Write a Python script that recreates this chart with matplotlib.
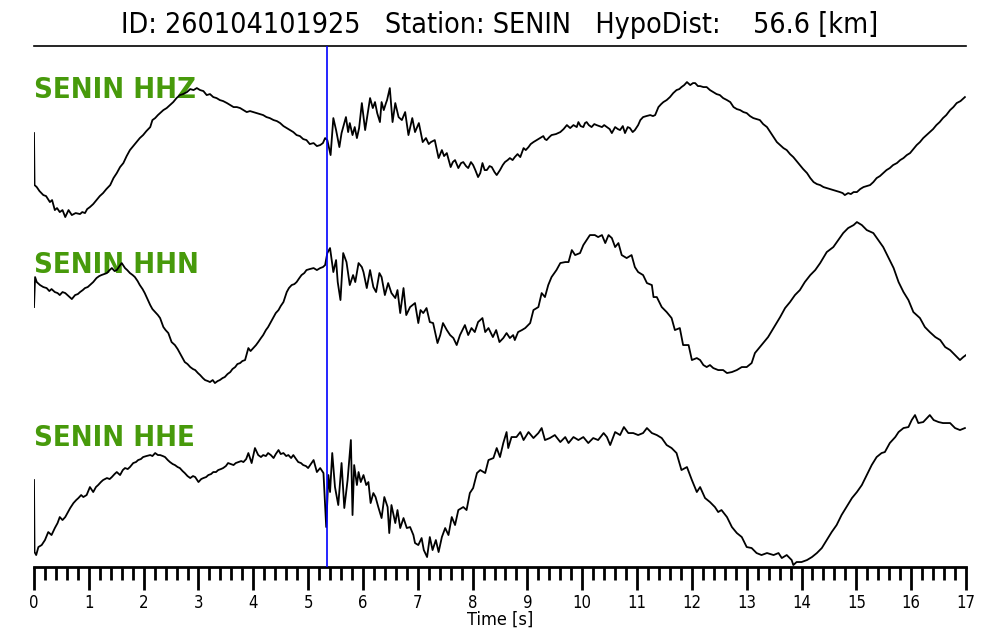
import numpy as np
import matplotlib.pyplot as plt
from matplotlib.ticker import MultipleLocator

plt.rcParams["font.family"] = ["DejaVu Sans"]
plt.rcParams["font.stretch"] = "condensed"

# Event info
event_id = "260104101925"
station = "SENIN"
hypo_dist = 56.6
p_pick = 5.35  # blue marker [s]

# Traces: (time [s], amplitude [counts, arbitrary])
hhz = [
    (0.00, 87), (0.01, 35), (0.05, 33), (0.10, 29), (0.17, 25), (0.22, 24), (0.29, 18), (0.33, 20),
    (0.38, 10), (0.42, 12), (0.47, 8), (0.52, 10), (0.57, 3), (0.63, 10), (0.69, 5), (0.76, 7),
    (0.84, 6), (0.88, 8), (0.93, 7), (0.97, 11), (1.02, 13), (1.08, 16), (1.14, 20), (1.20, 24),
    (1.26, 27), (1.32, 31), (1.39, 35), (1.45, 42), (1.51, 47), (1.57, 53), (1.63, 57), (1.69, 64),
    (1.75, 70), (1.81, 74), (1.87, 78), (1.93, 82), (1.99, 85), (2.05, 89), (2.12, 93), (2.16, 100),
    (2.21, 102), (2.26, 105), (2.30, 107), (2.36, 110), (2.42, 112), (2.48, 115), (2.54, 118), (2.60, 122),
    (2.66, 125), (2.72, 126), (2.79, 128), (2.85, 131), (2.91, 130), (2.97, 132), (3.03, 130), (3.09, 129),
    (3.15, 125), (3.21, 126), (3.27, 123), (3.33, 122), (3.39, 120), (3.45, 119), (3.52, 117), (3.58, 115),
    (3.64, 113), (3.70, 113), (3.76, 112), (3.82, 110), (3.88, 108), (3.94, 109), (4.00, 108), (4.06, 107),
    (4.12, 106), (4.18, 105), (4.24, 103), (4.30, 102), (4.37, 100), (4.43, 99), (4.49, 97), (4.55, 94),
    (4.61, 92), (4.67, 90), (4.73, 88), (4.79, 85), (4.85, 84), (4.91, 81), (4.97, 80), (5.03, 76),
    (5.10, 77), (5.16, 74), (5.22, 75), (5.27, 77), (5.31, 82), (5.35, 80), (5.41, 65), (5.46, 102),
    (5.51, 90), (5.57, 73), (5.61, 87), (5.69, 103), (5.73, 88), (5.76, 97), (5.81, 85), (5.85, 93),
    (5.89, 82), (5.93, 92), (5.98, 117), (6.04, 90), (6.13, 122), (6.18, 112), (6.22, 118), (6.26, 107),
    (6.31, 98), (6.34, 118), (6.38, 110), (6.42, 117), (6.44, 120), (6.49, 132), (6.54, 98), (6.59, 117),
    (6.65, 103), (6.71, 100), (6.77, 108), (6.83, 85), (6.90, 102), (6.95, 88), (7.02, 97), (7.09, 78),
    (7.15, 82), (7.20, 76), (7.24, 78), (7.31, 80), (7.38, 62), (7.44, 70), (7.48, 64), (7.53, 67),
    (7.60, 53), (7.64, 58), (7.68, 60), (7.74, 52), (7.79, 57), (7.83, 58), (7.88, 54), (7.92, 52),
    (7.97, 58), (8.01, 55), (8.05, 50), (8.10, 43), (8.14, 47), (8.18, 57), (8.22, 50), (8.26, 50),
    (8.31, 54), (8.35, 53), (8.40, 48), (8.44, 45), (8.50, 50), (8.55, 55), (8.59, 58), (8.64, 60),
    (8.68, 62), (8.73, 60), (8.77, 63), (8.82, 66), (8.87, 63), (8.93, 72), (8.97, 70), (9.02, 73),
    (9.06, 76), (9.11, 78), (9.17, 80), (9.23, 82), (9.29, 84), (9.32, 81), (9.35, 80), (9.40, 83),
    (9.44, 85), (9.52, 86), (9.60, 88), (9.66, 91), (9.72, 95), (9.78, 92), (9.84, 95), (9.90, 93),
    (9.93, 98), (9.97, 94), (10.02, 93), (10.05, 97), (10.08, 98), (10.12, 95), (10.17, 93), (10.22, 96),
    (10.26, 95), (10.31, 94), (10.36, 93), (10.40, 95), (10.45, 93), (10.50, 91), (10.54, 87), (10.60, 93),
    (10.65, 91), (10.69, 90), (10.74, 94), (10.78, 87), (10.83, 93), (10.87, 92), (10.92, 88), (10.96, 90),
    (11.02, 95), (11.06, 100), (11.11, 103), (11.17, 104), (11.24, 105), (11.29, 104), (11.33, 105), (11.39, 113),
    (11.44, 116), (11.48, 118), (11.54, 120), (11.60, 123), (11.66, 127), (11.72, 130), (11.77, 131), (11.81, 133),
    (11.86, 135), (11.91, 138), (11.97, 135), (12.02, 137), (12.06, 137), (12.11, 134), (12.15, 134), (12.21, 133),
    (12.27, 133), (12.33, 130), (12.39, 128), (12.45, 126), (12.51, 125), (12.57, 122), (12.64, 120), (12.70, 118),
    (12.76, 113), (12.82, 111), (12.88, 110), (12.94, 108), (13.00, 107), (13.06, 104), (13.12, 102), (13.18, 101),
    (13.24, 100), (13.30, 96), (13.37, 93), (13.43, 88), (13.49, 83), (13.55, 78), (13.61, 75), (13.67, 72),
    (13.73, 70), (13.79, 66), (13.85, 63), (13.91, 59), (13.97, 55), (14.03, 51), (14.10, 47), (14.16, 42),
    (14.22, 38), (14.28, 36), (14.34, 35), (14.40, 33), (14.46, 32), (14.52, 31), (14.58, 30), (14.64, 29),
    (14.70, 28), (14.75, 27), (14.79, 25), (14.85, 27), (14.90, 26), (14.95, 28), (15.01, 28), (15.07, 31),
    (15.13, 33), (15.19, 34), (15.25, 35), (15.31, 38), (15.37, 42), (15.43, 44), (15.49, 47), (15.55, 50),
    (15.61, 52), (15.67, 55), (15.74, 57), (15.80, 60), (15.86, 62), (15.92, 65), (15.98, 67), (16.04, 71),
    (16.10, 75), (16.16, 78), (16.22, 82), (16.28, 85), (16.34, 88), (16.40, 91), (16.46, 95), (16.52, 98),
    (16.58, 102), (16.64, 105), (16.71, 110), (16.77, 113), (16.83, 117), (16.90, 119), (16.98, 123),
]

hhn = [
    (0.00, 83), (0.02, 113), (0.05, 108), (0.11, 105), (0.17, 103), (0.23, 102), (0.28, 99), (0.32, 101),
    (0.38, 98), (0.43, 97), (0.47, 95), (0.52, 98), (0.57, 97), (0.63, 94), (0.69, 91), (0.75, 95),
    (0.80, 96), (0.84, 98), (0.89, 100), (0.93, 102), (0.98, 103), (1.02, 105), (1.08, 108), (1.14, 112),
    (1.19, 114), (1.23, 115), (1.28, 116), (1.33, 117), (1.38, 120), (1.42, 122), (1.47, 119), (1.51, 120),
    (1.56, 124), (1.60, 127), (1.66, 122), (1.70, 120), (1.75, 117), (1.80, 115), (1.84, 113), (1.89, 109),
    (1.93, 105), (1.98, 101), (2.02, 97), (2.07, 91), (2.12, 85), (2.16, 81), (2.21, 78), (2.26, 75),
    (2.30, 72), (2.36, 63), (2.40, 60), (2.45, 57), (2.51, 48), (2.57, 45), (2.62, 41), (2.66, 37),
    (2.71, 32), (2.75, 28), (2.80, 26), (2.85, 23), (2.90, 21), (2.94, 20), (2.99, 17), (3.03, 15),
    (3.08, 12), (3.12, 10), (3.17, 9), (3.21, 8), (3.26, 10), (3.30, 7), (3.35, 9), (3.39, 10),
    (3.44, 12), (3.48, 13), (3.53, 16), (3.58, 18), (3.62, 21), (3.67, 23), (3.71, 26), (3.76, 27),
    (3.80, 29), (3.85, 30), (3.91, 42), (3.95, 39), (4.00, 42), (4.05, 45), (4.09, 48), (4.14, 52),
    (4.18, 55), (4.23, 60), (4.27, 63), (4.32, 68), (4.37, 73), (4.41, 77), (4.46, 80), (4.50, 84),
    (4.55, 88), (4.61, 98), (4.65, 102), (4.70, 105), (4.75, 106), (4.79, 108), (4.84, 112), (4.88, 115),
    (4.93, 117), (4.97, 120), (5.03, 121), (5.10, 122), (5.16, 120), (5.22, 122), (5.27, 123), (5.31, 125),
    (5.35, 137), (5.40, 142), (5.46, 118), (5.51, 130), (5.54, 108), (5.59, 90), (5.64, 137), (5.70, 128),
    (5.76, 105), (5.82, 115), (5.86, 108), (5.92, 127), (5.98, 123), (6.01, 118), (6.07, 102), (6.13, 120),
    (6.19, 103), (6.24, 98), (6.30, 117), (6.34, 113), (6.40, 95), (6.46, 107), (6.52, 97), (6.59, 92),
    (6.63, 100), (6.68, 77), (6.74, 102), (6.79, 75), (6.86, 83), (6.95, 87), (7.01, 67), (7.05, 80),
    (7.10, 77), (7.16, 82), (7.22, 68), (7.28, 67), (7.36, 47), (7.41, 55), (7.46, 67), (7.53, 60),
    (7.59, 55), (7.65, 52), (7.71, 45), (7.77, 55), (7.86, 65), (7.92, 55), (7.98, 62), (8.04, 58),
    (8.10, 68), (8.18, 72), (8.23, 58), (8.29, 62), (8.37, 53), (8.43, 60), (8.49, 48), (8.56, 52),
    (8.62, 57), (8.68, 52), (8.74, 55), (8.77, 50), (8.83, 58), (8.90, 60), (8.96, 62), (9.05, 67),
    (9.11, 80), (9.20, 83), (9.26, 97), (9.32, 93), (9.38, 105), (9.44, 113), (9.53, 120), (9.60, 127),
    (9.69, 128), (9.75, 128), (9.81, 140), (9.87, 135), (9.96, 137), (10.02, 145), (10.08, 150), (10.14, 155),
    (10.23, 155), (10.29, 153), (10.36, 155), (10.42, 147), (10.48, 155), (10.54, 152), (10.60, 143), (10.66, 147),
    (10.72, 135), (10.81, 132), (10.90, 135), (10.96, 123), (11.02, 118), (11.11, 115), (11.18, 107), (11.27, 105),
    (11.30, 93), (11.36, 93), (11.45, 83), (11.54, 78), (11.63, 72), (11.69, 60), (11.78, 62), (11.84, 45),
    (11.94, 45), (12.00, 30), (12.09, 32), (12.15, 30), (12.21, 25), (12.27, 23), (12.33, 25), (12.39, 22),
    (12.48, 20), (12.57, 20), (12.64, 17), (12.73, 18), (12.82, 20), (12.91, 23), (13.00, 23), (13.09, 27),
    (13.15, 37), (13.24, 43), (13.30, 47), (13.39, 53), (13.49, 62), (13.61, 73), (13.70, 82), (13.79, 88),
    (13.88, 95), (13.97, 100), (14.06, 108), (14.16, 115), (14.25, 120), (14.34, 127), (14.46, 138), (14.58, 143),
    (14.67, 150), (14.76, 157), (14.85, 162), (14.95, 165), (15.01, 168), (15.10, 165), (15.19, 160), (15.31, 157),
    (15.40, 150), (15.49, 143), (15.58, 133), (15.68, 122), (15.77, 108), (15.86, 98), (15.95, 90), (16.04, 78),
    (16.16, 72), (16.25, 63), (16.34, 58), (16.44, 53), (16.53, 50), (16.62, 43), (16.71, 40), (16.80, 35),
    (16.89, 30), (16.95, 33), (17.00, 35),
]

hhe = [
    (0.00, 87), (0.01, 15), (0.04, 12), (0.08, 20), (0.14, 22), (0.20, 27), (0.26, 35), (0.32, 32),
    (0.38, 39), (0.43, 44), (0.47, 50), (0.52, 47), (0.57, 50), (0.62, 55), (0.66, 59), (0.72, 64),
    (0.77, 67), (0.81, 69), (0.86, 72), (0.90, 70), (0.96, 72), (1.02, 80), (1.08, 75), (1.13, 80),
    (1.17, 82), (1.22, 85), (1.26, 87), (1.33, 89), (1.38, 88), (1.42, 90), (1.47, 93), (1.51, 95),
    (1.57, 92), (1.62, 97), (1.66, 99), (1.71, 98), (1.75, 100), (1.81, 104), (1.86, 105), (1.90, 107),
    (1.95, 108), (1.99, 110), (2.05, 111), (2.12, 112), (2.16, 111), (2.21, 114), (2.26, 112), (2.30, 112),
    (2.35, 111), (2.39, 110), (2.44, 107), (2.48, 105), (2.53, 103), (2.57, 102), (2.62, 100), (2.66, 99),
    (2.71, 96), (2.75, 94), (2.80, 91), (2.85, 89), (2.90, 91), (2.94, 90), (3.00, 85), (3.05, 88),
    (3.09, 89), (3.14, 90), (3.18, 92), (3.23, 93), (3.27, 95), (3.32, 95), (3.36, 97), (3.41, 98),
    (3.45, 99), (3.50, 101), (3.54, 104), (3.59, 103), (3.64, 102), (3.68, 104), (3.73, 105), (3.78, 106),
    (3.82, 105), (3.87, 108), (3.91, 114), (3.97, 104), (4.03, 119), (4.09, 112), (4.14, 110), (4.18, 112),
    (4.23, 111), (4.27, 114), (4.32, 112), (4.37, 109), (4.41, 113), (4.46, 117), (4.50, 113), (4.55, 114),
    (4.60, 111), (4.64, 112), (4.69, 109), (4.73, 112), (4.78, 108), (4.82, 105), (4.87, 104), (4.91, 102),
    (4.96, 101), (5.00, 99), (5.05, 103), (5.10, 107), (5.16, 95), (5.22, 99), (5.28, 94), (5.33, 40),
    (5.37, 92), (5.40, 75), (5.44, 114), (5.49, 80), (5.55, 62), (5.61, 104), (5.66, 59), (5.72, 87),
    (5.78, 127), (5.81, 52), (5.84, 102), (5.89, 82), (5.92, 95), (5.96, 85), (6.01, 92), (6.06, 82),
    (6.10, 85), (6.14, 64), (6.19, 74), (6.23, 70), (6.28, 60), (6.34, 49), (6.39, 70), (6.45, 60),
    (6.48, 34), (6.52, 62), (6.59, 44), (6.63, 57), (6.68, 39), (6.74, 49), (6.80, 39), (6.86, 40),
    (6.92, 32), (6.95, 24), (7.01, 22), (7.07, 29), (7.11, 17), (7.17, 10), (7.22, 30), (7.27, 17),
    (7.33, 27), (7.38, 15), (7.44, 30), (7.50, 39), (7.56, 32), (7.62, 50), (7.68, 42), (7.74, 57),
    (7.83, 60), (7.89, 57), (7.95, 74), (8.01, 79), (8.08, 94), (8.14, 97), (8.23, 94), (8.29, 107),
    (8.38, 109), (8.44, 119), (8.50, 110), (8.56, 124), (8.62, 135), (8.65, 119), (8.71, 130), (8.80, 130),
    (8.87, 135), (8.93, 127), (9.02, 135), (9.11, 129), (9.20, 134), (9.26, 139), (9.32, 127), (9.41, 129),
    (9.50, 132), (9.60, 125), (9.69, 130), (9.75, 124), (9.84, 130), (9.93, 127), (10.02, 130), (10.11, 124),
    (10.20, 129), (10.29, 127), (10.39, 134), (10.45, 130), (10.51, 122), (10.60, 135), (10.69, 132), (10.76, 140),
    (10.84, 134), (10.93, 134), (11.02, 132), (11.11, 134), (11.18, 139), (11.27, 134), (11.36, 132), (11.45, 129),
    (11.54, 122), (11.63, 119), (11.72, 114), (11.81, 97), (11.91, 100), (12.00, 87), (12.09, 75), (12.15, 80),
    (12.24, 69), (12.33, 65), (12.42, 60), (12.48, 55), (12.54, 57), (12.64, 50), (12.73, 40), (12.82, 34),
    (12.91, 30), (13.00, 20), (13.09, 19), (13.18, 14), (13.27, 12), (13.37, 14), (13.49, 12), (13.58, 14),
    (13.64, 9), (13.73, 12), (13.82, 7), (13.85, 2), (13.91, 5), (14.00, 5), (14.10, 7), (14.19, 10),
    (14.28, 14), (14.37, 19), (14.46, 27), (14.55, 35), (14.64, 42), (14.73, 52), (14.82, 60), (14.92, 69),
    (15.01, 75), (15.10, 82), (15.19, 92), (15.28, 102), (15.37, 110), (15.46, 114), (15.52, 115), (15.61, 124),
    (15.71, 130), (15.77, 135), (15.86, 139), (15.95, 140), (16.01, 147), (16.07, 152), (16.13, 144), (16.22, 145),
    (16.34, 152), (16.41, 147), (16.50, 145), (16.58, 144), (16.71, 144), (16.80, 139), (16.89, 137), (16.98, 139),
]

channels = ["HHZ", "HHN", "HHE"]
traces = [hhz, hhn, hhe]
offsets = [347, 177, 0]      # vertical stacking of the three components
label_y = [477, 302, 129]

fig = plt.figure(figsize=(10, 6.4), dpi=100)
ax = fig.add_axes([0.034, 0.114, 0.932, 0.814])

for ch, tr, off, ly in zip(channels, traces, offsets, label_y):
    t, a = np.array(tr).T
    ax.plot(t, a + off, color="black", lw=1.3, zorder=3)
    ax.text(0.0, ly, f"{station} {ch}", color="#479a0b", fontsize=21,
            fontweight="bold", ha="left", va="center", zorder=1)

ax.axvline(p_pick, color="blue", lw=1.2, zorder=4)

ax.set_xlim(0, 17)
ax.set_ylim(0, 521)
ax.set_yticks([])
ax.xaxis.set_major_locator(MultipleLocator(1))
ax.xaxis.set_minor_locator(MultipleLocator(0.2))
ax.tick_params(axis="x", which="major", length=16.5, width=2, labelsize=12, pad=3)
ax.tick_params(axis="x", which="minor", length=9.5, width=2)
ax.set_xlabel("Time [s]", fontsize=13, labelpad=-1)

for side in ["left", "right"]:
    ax.spines[side].set_visible(False)
ax.spines["top"].set_linewidth(1.2)
ax.spines["bottom"].set_linewidth(2)

fig.text(0.5, 1 - 25 / 640,
         f"ID: {event_id}   Station: {station}   HypoDist:    {hypo_dist} [km]",
         ha="center", va="center", fontsize=20.5)

fig.savefig("out.png", dpi=100)
